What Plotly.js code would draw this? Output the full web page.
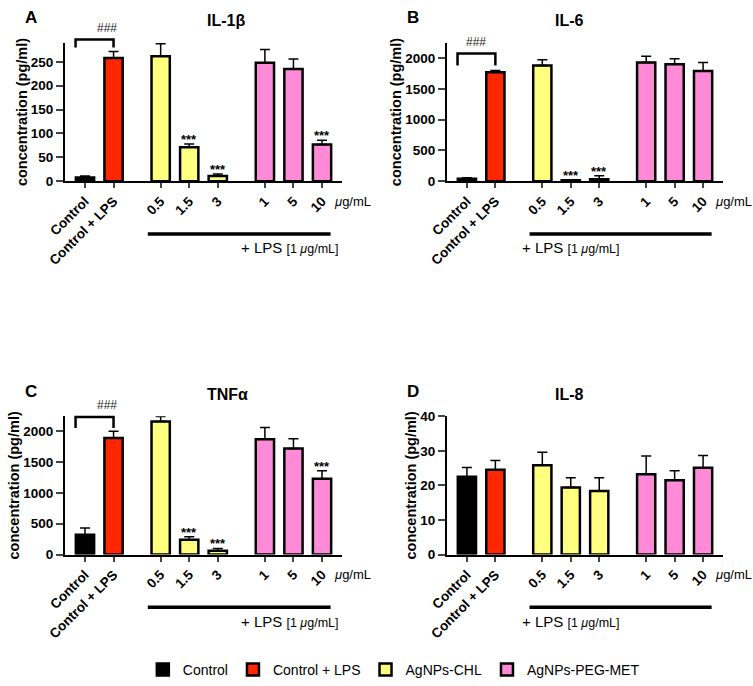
<!DOCTYPE html>
<html>
<head>
<meta charset="utf-8">
<script src="https://cdn.plot.ly/plotly-3.0.1.min.js"></script>
<style>
  html, body { margin: 0; padding: 0; background: #fff; }
  #chart { width: 753px; height: 686px; }
</style>
</head>
<body>
<div id="chart"></div>
<script>
// categories and bar positions (gaps between the groups like the original)
var tickLabels = ['Control', 'Control + LPS', '0.5', '1.5', '3', '1', '5', '10'];
var xPos = [0, 1, 2.65, 3.65, 4.65, 6.3, 7.3, 8.3];
var groupNames = ['Control', 'Control + LPS', 'AgNPs-CHL', 'AgNPs-PEG-MET'];
var groupMembers = [[0], [1], [2, 3, 4], [5, 6, 7]];
var groupColors = ['#000000', '#ff2600', '#ffff80', '#ff8ad8'];

// measured means and upper SD
var il1b = [8, 258, 262, 71, 11, 248, 235, 77];
var il1bErr = [3, 14, 26, 7, 4, 28, 21, 9];
var il1bSig = ['', '', '', '***', '***', '', '', '***'];

var il6 = [40, 1770, 1880, 15, 30, 1930, 1900, 1790];
var il6Err = [15, 30, 95, 10, 60, 100, 90, 140];
var il6Sig = ['', '', '', '***', '***', '', '', ''];

var tnf = [320, 1890, 2160, 240, 60, 1870, 1720, 1230];
var tnfErr = [110, 110, 80, 50, 40, 190, 160, 130];
var tnfSig = ['', '', '', '***', '***', '', '', '***'];

var il8 = [22.5, 24.5, 25.8, 19.4, 18.4, 23.2, 21.5, 25.1];
var il8Err = [2.7, 2.7, 3.8, 2.8, 3.8, 5.3, 2.7, 3.5];
var il8Sig = ['', '', '', '', '', '', '', ''];

var W = 753, H = 686;
var xRange = [-0.7, 9.0];
var xL = [65 / W, 342 / W], xR = [447 / W, 723 / W];
var yT = [1 - 182 / H, 1 - 43 / H], yB = [1 - 557 / H, 1 - 418 / H];

var panels = [
  {vals: il1b, errs: il1bErr, sig: il1bSig, ymax: 290, dtick: 50, title: 'IL-1β', letter: 'A',
   xd: xL, yd: yT, bracket: [280, 297]},
  {vals: il6, errs: il6Err, sig: il6Sig, ymax: 2250, dtick: 500, title: 'IL-6', letter: 'B',
   xd: xR, yd: yT, bracket: [1880, 2075]},
  {vals: tnf, errs: tnfErr, sig: tnfSig, ymax: 2245, dtick: 500, title: 'TNFα', letter: 'C',
   xd: xL, yd: yB, bracket: [2055, 2233]},
  {vals: il8, errs: il8Err, sig: il8Sig, ymax: 40, dtick: 10, title: 'IL-8', letter: 'D',
   xd: xR, yd: yB, bracket: null}
];

function toPX(p, v) { return p.xd[0] + (v - xRange[0]) / (xRange[1] - xRange[0]) * (p.xd[1] - p.xd[0]); }
function toPY(p, v) { return p.yd[0] + v / p.ymax * (p.yd[1] - p.yd[0]); }

var fam = 'Liberation Sans, Arial, sans-serif';
var data = [], shapes = [], annotations = [];
var layout = {
  width: W, height: H,
  margin: {l: 0, r: 0, t: 0, b: 0},
  paper_bgcolor: '#fff', plot_bgcolor: 'rgba(0,0,0,0)',
  font: {family: fam, color: '#000', size: 13},
  barmode: 'overlay',
  showlegend: true,
  legend: {orientation: 'h', x: 0.523, xanchor: 'center', y: 1 - 673 / H, yanchor: 'middle',
           font: {size: 14, family: fam}, traceorder: 'normal'}
};

panels.forEach(function (p, k) {
  var sfx = k === 0 ? '' : String(k + 1);
  groupMembers.forEach(function (m, g) {
    data.push({
      type: 'bar',
      name: groupNames[g],
      legendgroup: groupNames[g],
      showlegend: k === 0,
      x: m.map(function (i) { return xPos[i]; }),
      y: m.map(function (i) { return p.vals[i]; }),
      width: 0.64,
      marker: {color: groupColors[g], line: {color: '#000', width: 2.5}},
      error_y: {type: 'data', symmetric: false,
                array: m.map(function (i) { return p.errs[i]; }),
                arrayminus: m.map(function () { return 0; }),
                color: '#000', thickness: 1.5, width: 5},
      xaxis: 'x' + sfx, yaxis: 'y' + sfx,
      hoverinfo: 'x+y'
    });
  });

  layout['xaxis' + sfx] = {
    domain: p.xd, range: xRange, anchor: 'y' + sfx,
    tickvals: xPos, ticktext: tickLabels, tickangle: -45,
    tickfont: {size: 13.5, weight: 'bold'},
    ticks: 'outside', ticklen: 5, tickwidth: 2,
    showline: true, linewidth: 2, linecolor: '#000',
    showgrid: false, zeroline: false, fixedrange: true
  };
  layout['yaxis' + sfx] = {
    domain: p.yd, range: [0, p.ymax], anchor: 'x' + sfx,
    tick0: 0, dtick: p.dtick,
    tickfont: {size: 13.5, weight: 'bold'},
    ticks: 'outside', ticklen: 7, tickwidth: 2,
    showline: true, linewidth: 2, linecolor: '#000',
    showgrid: false, zeroline: false, fixedrange: true,
    title: {text: 'concentration (pg/ml)', font: {size: 14.5, weight: 'bold'}, standoff: 0}
  };

  // significance stars
  p.sig.forEach(function (s, i) {
    if (!s) return;
    annotations.push({xref: 'x' + sfx, yref: 'y' + sfx, x: xPos[i], y: p.vals[i] + p.errs[i],
      text: s, showarrow: false, yanchor: 'bottom', yshift: -5,
      font: {size: 13, weight: 'bold'}});
  });

  // ### bracket
  if (p.bracket) {
    var xa = toPX(p, -0.33), xb = toPX(p, 1.0);
    var y0 = toPY(p, p.bracket[0]), y1 = toPY(p, p.bracket[1]);
    shapes.push({type: 'path', xref: 'paper', yref: 'paper',
      path: 'M' + xa + ',' + y0 + 'L' + xa + ',' + y1 + 'L' + xb + ',' + y1 + 'L' + xb + ',' + y0,
      line: {color: '#000', width: 2.5}});
    annotations.push({xref: 'paper', yref: 'paper', x: (xa + xb) / 2, y: y1 + 12 / H,
      yanchor: 'middle', text: '###', showarrow: false, font: {size: 12, color: '#222'}});
  }

  // + LPS bar under the treatment groups
  var lineY = p.yd[0] - 53 / H;
  shapes.push({type: 'line', xref: 'paper', yref: 'paper',
    x0: toPX(p, 2.2), x1: toPX(p, 8.6), y0: lineY, y1: lineY,
    line: {color: '#000', width: 3.5}});
  annotations.push({xref: 'paper', yref: 'paper', x: toPX(p, 5.4), y: lineY - 14 / H,
    yanchor: 'middle',
    text: '+ LPS <span style="font-size:12.5px">[1 <i>μ</i>g/mL]</span>', showarrow: false,
    font: {size: 15}});

  // unit label next to the doses
  annotations.push({xref: 'paper', yref: 'paper', x: toPX(p, 8.65), y: p.yd[0] - 20 / H,
    xanchor: 'left', yanchor: 'middle', text: '<i>μ</i>g/mL', showarrow: false, font: {size: 13}});

  // panel title and letter
  annotations.push({xref: 'paper', yref: 'paper', x: toPX(p, 4.2), y: p.yd[1] + 22 / H,
    yanchor: 'middle', text: p.title, showarrow: false, font: {size: 16, weight: 'bold'}});
  annotations.push({xref: 'paper', yref: 'paper', x: p.xd[0] - 42 / W, y: p.yd[1] + 25 / H,
    xanchor: 'left', yanchor: 'middle', text: p.letter, showarrow: false,
    font: {size: 17, weight: 'bold'}});
});

layout.shapes = shapes;
layout.annotations = annotations;

Plotly.newPlot('chart', data, layout, {displayModeBar: false, staticPlot: true});
</script>
</body>
</html>
